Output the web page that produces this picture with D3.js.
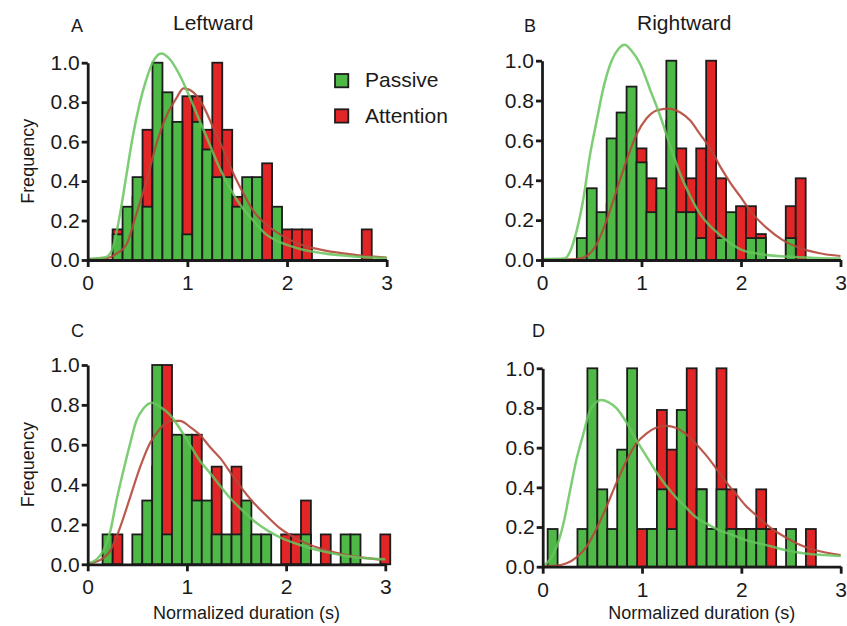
<!DOCTYPE html>
<html>
<head>
<meta charset="utf-8">
<script src="https://cdn.jsdelivr.net/npm/d3@7"></script>
<style>
  body { margin: 0; background: #fff; }
  text { font-family: "Liberation Sans", Arial, sans-serif; fill: #1a1a1a; }
</style>
</head>
<body>
<script>
// bin centre (s), normalized frequency
var passiveA = [[0.3,0.13],[0.4,0.27],[0.5,0.42],[0.6,0.27],[0.7,1.0],[0.8,0.85],[0.9,0.70],[1.0,0.13],[1.1,0.70],[1.2,0.56],[1.3,0.42],[1.4,0.42],[1.5,0.27],[1.6,0.42],[1.7,0.42],[1.9,0.27]];
var attentionA = [[0.3,0.155],[0.4,0.155],[0.5,0.32],[0.6,0.66],[0.7,0.49],[0.8,0.66],[0.9,0.49],[1.0,0.83],[1.1,0.83],[1.2,0.66],[1.3,1.0],[1.4,0.66],[1.5,0.32],[1.6,0.155],[1.7,0.32],[1.8,0.49],[1.9,0.155],[2.0,0.155],[2.1,0.155],[2.2,0.155],[2.8,0.155]];

var passiveB = [[0.4,0.11],[0.5,0.36],[0.6,0.24],[0.7,0.61],[0.8,0.74],[0.9,0.87],[1.0,0.49],[1.1,0.24],[1.2,0.36],[1.3,1.0],[1.4,0.24],[1.5,0.24],[1.6,0.11],[1.8,0.11],[1.9,0.24],[2.1,0.11],[2.2,0.11],[2.5,0.11]];
var attentionB = [[0.6,0.14],[0.7,0.28],[0.8,0.42],[0.9,0.28],[1.0,0.56],[1.1,0.41],[1.2,0.28],[1.3,0.70],[1.4,0.56],[1.5,0.41],[1.6,0.56],[1.7,1.0],[1.8,0.41],[1.9,0.11],[2.0,0.27],[2.1,0.27],[2.2,0.13],[2.5,0.27],[2.6,0.41]];

var passiveC = [[0.2,0.15],[0.5,0.15],[0.6,0.32],[0.7,1.0],[0.8,0.15],[0.9,0.65],[1.0,0.65],[1.1,0.32],[1.2,0.32],[1.3,0.15],[1.4,0.15],[1.5,0.15],[1.6,0.32],[1.7,0.15],[1.8,0.15],[2.2,0.15],[2.6,0.15],[2.7,0.15]];
var attentionC = [[0.3,0.15],[0.6,0.15],[0.7,0.49],[0.8,1.0],[0.9,0.49],[1.0,0.32],[1.1,0.65],[1.2,0.15],[1.3,0.49],[1.5,0.49],[1.6,0.15],[2.0,0.15],[2.1,0.15],[2.2,0.32],[2.4,0.15],[3.0,0.15]];

var passiveD = [[0.1,0.19],[0.4,0.19],[0.5,1.0],[0.6,0.39],[0.7,0.19],[0.8,0.59],[0.9,1.0],[1.1,0.19],[1.2,0.39],[1.3,0.19],[1.4,0.79],[1.6,0.39],[1.7,0.19],[1.8,0.39],[1.9,0.19],[2.0,0.19],[2.1,0.19],[2.2,0.19],[2.5,0.19]];
var attentionD = [[0.9,0.19],[1.0,0.19],[1.1,0.19],[1.2,0.79],[1.3,0.59],[1.4,0.59],[1.5,1.0],[1.6,0.39],[1.7,0.19],[1.8,1.0],[1.9,0.39],[2.0,0.19],[2.1,0.19],[2.2,0.39],[2.3,0.19],[2.7,0.19]];

// fitted curves
var fitPassiveA = [[0,0.005],[0.18,0.014],[0.235,0.04],[0.32,0.22],[0.385,0.42],[0.45,0.62],[0.52,0.79],[0.585,0.91],[0.65,1.0],[0.74,1.047],[0.82,1.02],[0.92,0.94],[1.02,0.83],[1.12,0.71],[1.22,0.59],[1.32,0.47],[1.42,0.37],[1.53,0.28],[1.66,0.20],[1.79,0.13],[1.93,0.09],[2.13,0.056],[2.36,0.034],[2.70,0.017],[3.0,0.01]];
var fitAttentionA = [[0,0.005],[0.2,0.01],[0.28,0.03],[0.39,0.08],[0.48,0.22],[0.59,0.40],[0.69,0.59],[0.79,0.73],[0.89,0.82],[0.96,0.87],[1.06,0.85],[1.16,0.78],[1.26,0.67],[1.36,0.56],[1.46,0.44],[1.56,0.34],[1.66,0.25],[1.79,0.18],[1.93,0.13],[2.13,0.08],[2.36,0.05],[2.70,0.025],[3.0,0.012]];
var fitPassiveB = [[0,0.005],[0.23,0.008],[0.28,0.04],[0.35,0.15],[0.42,0.32],[0.48,0.52],[0.55,0.70],[0.62,0.87],[0.70,1.0],[0.77,1.06],[0.83,1.08],[0.90,1.05],[0.99,0.98],[1.09,0.85],[1.19,0.72],[1.29,0.57],[1.39,0.43],[1.49,0.32],[1.59,0.23],[1.72,0.156],[1.86,0.097],[1.99,0.055],[2.19,0.03],[2.46,0.017],[2.76,0.01],[3.0,0.007]];
var fitAttentionB = [[0,0.002],[0.35,0.005],[0.45,0.02],[0.55,0.08],[0.65,0.20],[0.75,0.35],[0.85,0.50],[0.95,0.63],[1.05,0.71],[1.15,0.75],[1.27,0.76],[1.39,0.74],[1.49,0.70],[1.59,0.63],[1.69,0.56],[1.79,0.47],[1.89,0.39],[1.99,0.32],[2.12,0.23],[2.26,0.16],[2.42,0.10],[2.59,0.06],[2.79,0.034],[3.0,0.02]];
var fitPassiveC = [[0,0.005],[0.09,0.025],[0.16,0.07],[0.23,0.17],[0.29,0.32],[0.36,0.47],[0.43,0.61],[0.49,0.72],[0.56,0.78],[0.65,0.81],[0.73,0.79],[0.83,0.75],[0.93,0.68],[1.03,0.60],[1.13,0.52],[1.23,0.46],[1.34,0.39],[1.44,0.33],[1.54,0.28],[1.67,0.22],[1.81,0.17],[1.94,0.135],[2.14,0.097],[2.34,0.069],[2.55,0.047],[2.75,0.033],[3.0,0.025]];
var fitAttentionC = [[0,0.003],[0.12,0.02],[0.23,0.07],[0.33,0.19],[0.43,0.34],[0.53,0.49],[0.63,0.61],[0.73,0.68],[0.83,0.72],[0.93,0.72],[1.03,0.69],[1.13,0.65],[1.23,0.59],[1.34,0.53],[1.44,0.46],[1.54,0.39],[1.67,0.31],[1.81,0.24],[1.94,0.18],[2.14,0.12],[2.34,0.08],[2.55,0.052],[2.75,0.035],[3.0,0.022]];
var fitPassiveD = [[0,0.003],[0.07,0.034],[0.14,0.10],[0.21,0.22],[0.27,0.37],[0.34,0.54],[0.41,0.67],[0.47,0.78],[0.54,0.83],[0.59,0.84],[0.66,0.83],[0.74,0.80],[0.84,0.73],[0.94,0.64],[1.04,0.56],[1.14,0.48],[1.24,0.41],[1.34,0.35],[1.44,0.30],[1.54,0.25],[1.64,0.22],[1.77,0.185],[1.91,0.16],[2.04,0.135],[2.24,0.11],[2.44,0.084],[2.64,0.067],[2.84,0.059],[3.0,0.054]];
var fitAttentionD = [[0,0.002],[0.14,0.005],[0.24,0.017],[0.34,0.047],[0.44,0.10],[0.54,0.19],[0.64,0.30],[0.74,0.42],[0.84,0.53],[0.94,0.62],[1.04,0.67],[1.14,0.70],[1.24,0.71],[1.34,0.70],[1.44,0.67],[1.54,0.62],[1.64,0.565],[1.74,0.50],[1.84,0.43],[1.94,0.37],[2.04,0.31],[2.17,0.25],[2.31,0.19],[2.44,0.15],[2.57,0.115],[2.74,0.084],[3.0,0.059]];

var xTicks = [0, 1, 2, 3];
var yTicks = [0, 0.2, 0.4, 0.6, 0.8, 1.0];
var seriesNames = ["Passive", "Attention"];

var greenFill = "#4fb948", redFill = "#e22526";
var greenLine = "#66c45c", redLine = "#b5473a";
var binWidth = 0.1;

var svg = d3.select("body").append("svg")
    .attr("width", 847)
    .attr("height", 626);

var panels = [
  { letter: "A", title: "Leftward", passive: passiveA, attention: attentionA, fitP: fitPassiveA, fitA: fitAttentionA,
    left: 87.7, right: 386.7, bottom: 260, top: 62.7, letterX: 71, letterY: 32, titleX: 173, ylabel: true, xlabel: false },
  { letter: "B", title: "Rightward", passive: passiveB, attention: attentionB, fitP: fitPassiveB, fitA: fitAttentionB,
    left: 542, right: 840.5, bottom: 260, top: 60.7, letterX: 524, letterY: 32, titleX: 637, ylabel: false, xlabel: false },
  { letter: "C", title: null, passive: passiveC, attention: attentionC, fitP: fitPassiveC, fitA: fitAttentionC,
    left: 87.7, right: 385.3, bottom: 564.3, top: 365, letterX: 71, letterY: 337, ylabel: true, xlabel: true },
  { letter: "D", title: null, passive: passiveD, attention: attentionD, fitP: fitPassiveD, fitA: fitAttentionD,
    left: 542.7, right: 840.7, bottom: 566.7, top: 368.3, letterX: 532, letterY: 337, ylabel: false, xlabel: true }
];

panels.forEach(function (p) {
  var x = d3.scaleLinear().domain([0, 3]).range([p.left, p.right]);
  var y = d3.scaleLinear().domain([0, 1]).range([p.bottom, p.top]);
  var g = svg.append("g");
  var bw = x(binWidth) - x(0);

  // attention bars sit behind passive bars
  g.selectAll("rect.att")
    .data(p.attention)
    .enter()
    .append("rect")
    .attr("x", function (d) { return x(d[0]) - bw / 2; })
    .attr("y", function (d) { return y(d[1]); })
    .attr("width", bw)
    .attr("height", function (d) { return y(0) - y(d[1]); })
    .attr("fill", redFill)
    .attr("stroke", "#1c1c1c")
    .attr("stroke-width", 1.8);

  g.selectAll("rect.pas")
    .data(p.passive)
    .enter()
    .append("rect")
    .attr("x", function (d) { return x(d[0]) - bw / 2; })
    .attr("y", function (d) { return y(d[1]); })
    .attr("width", bw)
    .attr("height", function (d) { return y(0) - y(d[1]); })
    .attr("fill", greenFill)
    .attr("stroke", "#1c1c1c")
    .attr("stroke-width", 1.8);

  var line = d3.line()
    .x(function (d) { return x(d[0]); })
    .y(function (d) { return y(d[1]); })
    .curve(d3.curveMonotoneX);

  g.append("path").datum(p.fitA)
    .attr("d", line)
    .attr("fill", "none")
    .attr("stroke", redLine)
    .attr("stroke-width", 2.2)
    .attr("stroke-opacity", 0.9);

  g.append("path").datum(p.fitP)
    .attr("d", line)
    .attr("fill", "none")
    .attr("stroke", greenLine)
    .attr("stroke-width", 2.5)
    .attr("stroke-opacity", 0.85);

  var xAxis = d3.axisBottom(x).tickValues(xTicks).tickFormat(d3.format("d"))
    .tickSize(7).tickSizeOuter(0).tickPadding(8);
  var yAxis = d3.axisLeft(y).tickValues(yTicks).tickFormat(d3.format(".1f"))
    .tickSize(6).tickSizeOuter(0).tickPadding(2);

  var gx = g.append("g").attr("transform", "translate(0," + p.bottom + ")").call(xAxis);
  var gy = g.append("g").attr("transform", "translate(" + p.left + ",0)").call(yAxis);

  [gx, gy].forEach(function (ax) {
    ax.select(".domain").attr("stroke", "#1a1a1a").attr("stroke-width", 2.8);
    ax.selectAll(".tick line").attr("stroke", "#1a1a1a").attr("stroke-width", 2.8);
    ax.selectAll(".tick text")
      .attr("font-size", 21)
      .attr("font-family", "Liberation Sans, Arial, sans-serif")
      .attr("fill", "#1a1a1a");
  });

  svg.append("text")
    .attr("x", p.letterX).attr("y", p.letterY)
    .attr("font-size", 18)
    .text(p.letter);

  if (p.title) {
    svg.append("text")
      .attr("x", p.titleX).attr("y", 30)
      .attr("font-size", 21)
      .text(p.title);
  }

  if (p.ylabel) {
    var cy = (p.top + p.bottom) / 2;
    svg.append("text")
      .attr("transform", "translate(34," + cy + ") rotate(-90)")
      .attr("text-anchor", "middle")
      .attr("font-size", 18)
      .text("Frequency");
  }

  if (p.xlabel) {
    svg.append("text")
      .attr("x", (p.left + p.right) / 2 + 10)
      .attr("y", 619)
      .attr("text-anchor", "middle")
      .attr("font-size", 18)
      .text("Normalized duration (s)");
  }
});

// legend
var legend = svg.append("g");
var legendColors = [greenFill, redFill];
var legendY = [74, 109.3];
seriesNames.forEach(function (name, i) {
  legend.append("rect")
    .attr("x", 335).attr("y", legendY[i])
    .attr("width", 13.3).attr("height", 13.3)
    .attr("fill", legendColors[i])
    .attr("stroke", "#1c1c1c")
    .attr("stroke-width", 1.8);
  legend.append("text")
    .attr("x", 365).attr("y", legendY[i] + 13.3)
    .attr("font-size", 21)
    .text(name);
});
</script>
</body>
</html>
